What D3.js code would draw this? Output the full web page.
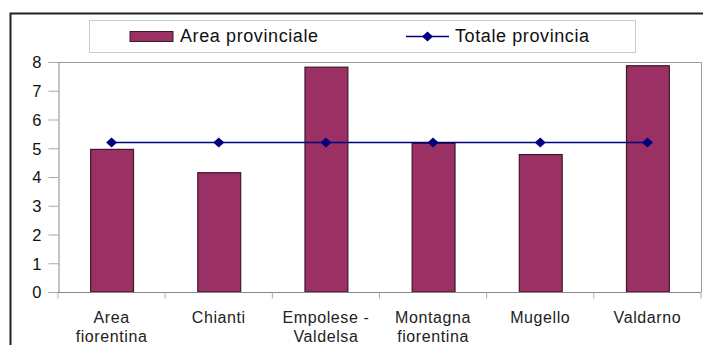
<!DOCTYPE html>
<html><head><meta charset="utf-8">
<script src="https://cdn.jsdelivr.net/npm/d3@7"></script>
<style>body{margin:0;background:#fff}svg{display:block}text{font-family:"Liberation Sans",Arial,sans-serif}</style>
</head><body>
<svg id="c" width="703" height="345"></svg>
<script>
const categories = [["Area","fiorentina"],["Chianti"],["Empolese -","Valdelsa"],["Montagna","fiorentina"],["Mugello"],["Valdarno"]];
const areaValues = [4.96, 4.15, 7.82, 5.17, 4.78, 7.87];
const totaleValues = [5.2, 5.2, 5.2, 5.2, 5.2, 5.2];
const yTicks = [0,1,2,3,4,5,6,7,8];
const seriesNames = ["Area provinciale","Totale provincia"];

const svg = d3.select("#c");
const W = 703, H = 345;
const m = {left:58, right:2, top:62, bottom:53};
const keys = categories.map((c,i)=>i);

// outer frame
svg.append("rect").attr("x",10.5).attr("y",13.5).attr("width",720).attr("height",400)
  .attr("fill","none").attr("stroke","#222").attr("stroke-width",2);

const x = d3.scaleBand().domain(keys).range([m.left, W-m.right]).paddingInner(0.6).paddingOuter(0.3);
const y = d3.scaleLinear().domain([0,8]).range([H-m.bottom, m.top]);

// plot area border (top & right)
svg.append("path").attr("d",`M${m.left},${m.top+0.5}H${W-m.right+0.5}V${H-m.bottom}`)
  .attr("fill","none").attr("stroke","#999").attr("stroke-width",1);

// y axis
const ya = svg.append("g").attr("transform",`translate(${m.left+0.5},0)`)
  .call(d3.axisLeft(y).tickValues(yTicks).tickSize(10).tickPadding(7).tickFormat(d3.format("d")));
ya.select(".domain").attr("stroke","#888");
ya.selectAll(".tick line").attr("stroke","#aaa");
ya.selectAll("text").attr("font-size",16.5).attr("fill","#111").attr("dy","0.36em");

// bars
svg.append("g").selectAll("rect").data(areaValues).join("rect")
  .attr("x",(d,i)=>x(i)+0.5).attr("y",d=>y(d)).attr("width",x.bandwidth())
  .attr("height",d=>y(0)-y(d)).attr("fill","#9b3064").attr("stroke","#3a1a28").attr("stroke-width",1.2);

// x axis
const step = x.step();
const xa = svg.append("g").attr("transform",`translate(0,${y(0)+0.5})`);
xa.append("line").attr("x1",m.left).attr("x2",W-m.right).attr("stroke","#888");
const bounds = d3.range(0, keys.length+1).map(i => m.left + i*step);
xa.selectAll(".tk").data(bounds).join("line").attr("class","tk")
  .attr("x1",d=>d).attr("x2",d=>d).attr("y1",0).attr("y2",6).attr("stroke","#aaa");
xa.selectAll(".lbl").data(categories).join("text").attr("class","lbl")
  .attr("text-anchor","middle").attr("font-size",16).attr("fill","#222").attr("letter-spacing","0.6")
  .each(function(d,i){
    const t = d3.select(this);
    d.forEach((s,j)=>t.append("tspan").attr("x",x(i)+x.bandwidth()/2).attr("y",30+j*19.5).text(s));
  });

// line
const line = d3.line().x((d,i)=>x(i)+x.bandwidth()/2).y(d=>y(d));
svg.append("path").datum(totaleValues).attr("d",line).attr("fill","none").attr("stroke","#000080").attr("stroke-width",1.4);
const diamond = "M0,-5L5.5,0L0,5L-5.5,0Z";
svg.append("g").selectAll("path").data(totaleValues).join("path")
  .attr("transform",(d,i)=>`translate(${x(i)+x.bandwidth()/2},${y(d)})`).attr("d",diamond).attr("fill","#000080");

// legend
const lg = svg.append("g");
lg.append("rect").attr("x",89.5).attr("y",20.5).attr("width",546).attr("height",32)
  .attr("fill","#fff").attr("stroke","#ccc");
lg.append("rect").attr("x",130).attr("y",31.5).attr("width",43).attr("height",10)
  .attr("fill","#9b3064").attr("stroke","#3a1a28");
lg.append("text").attr("x",180).attr("y",42).attr("font-size",18).attr("letter-spacing","0.6").attr("fill","#111").text(seriesNames[0]);
lg.append("line").attr("x1",406).attr("x2",449).attr("y1",36.5).attr("y2",36.5).attr("stroke","#000080").attr("stroke-width",1.4);
lg.append("path").attr("transform","translate(427.5,36.5)").attr("d",diamond).attr("fill","#000080");
lg.append("text").attr("x",455).attr("y",42).attr("font-size",18).attr("letter-spacing","0.6").attr("fill","#111").text(seriesNames[1]);
</script>
</body></html>
